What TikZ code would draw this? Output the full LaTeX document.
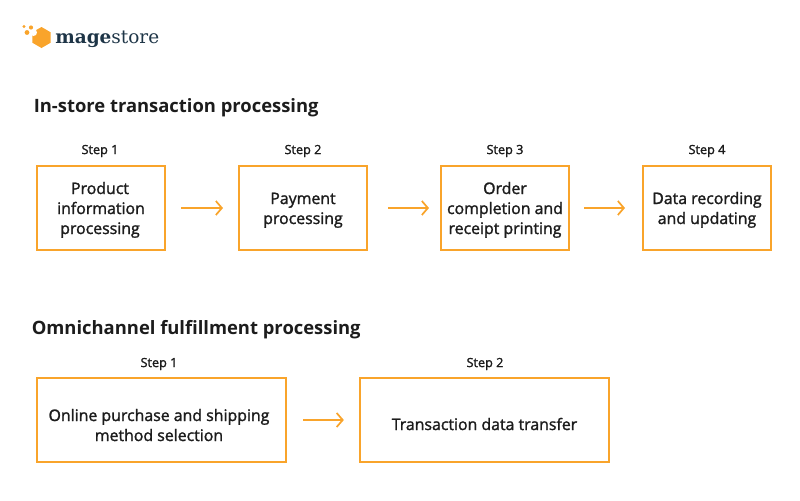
\documentclass[tikz,border=0pt]{standalone}
\usepackage{fontspec}
\setmainfont{Open Sans}
\newfontfamily\midfont[FakeBold=1.6]{Open Sans}
\newfontfamily\logofont{DejaVu Serif}
\usetikzlibrary{arrows.meta}
\usetikzlibrary{shapes.geometric}
\definecolor{mageorange}{HTML}{F9A42B}
\definecolor{magenavy}{HTML}{1E3547}
\definecolor{boxtext}{HTML}{1C1C1C}

\begin{document}
\begin{tikzpicture}[x = 0.75pt, y = -0.75pt]
\tikzset{
   node distance = 151.5pt, >={Straight Barb[length = 4.5pt, width = 10.5pt]},
   stepbox/.style = {rectangle, draw = mageorange, line width = 1.7pt, minimum width = 96pt, minimum height = 63pt, outer sep = 0pt, inner sep = 0pt, align = center, text = boxtext, text depth = 0pt, font = \midfont\fontsize{11.9}{15}\selectfont},
   wide_stepbox/.style = {stepbox, minimum width = 187pt},
   steplabel/.style = {text = boxtext, font = \midfont\fontsize{9.5}{10}\selectfont},
   heading/.style = {anchor = west, inner sep = 0pt, text = boxtext, font = \bfseries\fontsize{13.8}{17}\selectfont},
   flow/.style = {draw = mageorange, line width = 1.3pt}
}
  \useasboundingbox (0,0) rectangle (800,500);

  % logo
  \node[regular polygon, regular polygon sides = 6, shape border rotate = 30, fill = mageorange, minimum size = 15.75pt, inner sep = 0pt] (hexagon) at (41.5,37.5) {};
  \fill[white] (33.5,32.5) circle (3.5);
  \fill[mageorange] (24,26.5) circle (1.6);
  \fill[mageorange] (31,27.5) circle (2.1);
  \fill[mageorange] (27,32.5) circle (2.4);
  \node[anchor = west, inner sep = 0pt, text = magenavy, font = \logofont\fontsize{13.85}{17}\selectfont] (logotext) at (55,39) {\textbf{mage}store};

  % first row
  \node[heading] (heading_store) at (33.5,108) {In-store transaction processing};

  \node[stepbox, text height = 39pt] (store_one) at (101,208) {Product\hspace*{1.5pt}\\information\hspace*{1.5pt}\\processing\hspace*{1.5pt}};
  \node[stepbox, text height = 24pt] (store_two) [right of = store_one] {Payment\\processing}
        edge [<-, flow, shorten <= 12pt, shorten >= 12pt] (store_one);
  \node[stepbox, text height = 39pt] (store_three) [right of = store_two] {Order\\completion and\\receipt printing}
        edge [<-, flow, shorten <= 9pt, shorten >= 16pt] (store_two);
  \node[stepbox, text height = 24pt] (store_four) [right of = store_three] {Data recording\\and updating}
        edge [<-, flow, shorten <= 13.5pt, shorten >= 11pt] (store_three);

  \node[steplabel] (label_store_one) at (100,151) {Step 1};
  \node[steplabel] (label_store_two) at (303,151) {Step 2};
  \node[steplabel] (label_store_three) at (505,151) {Step 3};
  \node[steplabel] (label_store_four) at (707,151) {Step 4};

  % second row
  \node[heading] (heading_omni) at (31.5,330) {Omnichannel fulfillment processing};

  \node[wide_stepbox, text height = 31.5pt] (omni_one) at (161.5,420) {Online purchase and shipping\hspace*{3.75pt}\\method selection\hspace*{3.75pt}};
  \node[wide_stepbox, text height = 15pt] (omni_two) at (484.5,420) {Transaction data transfer}
        edge [<-, flow, shorten <= 12pt, shorten >= 12.5pt] (omni_one);

  \node[steplabel] (label_omni_one) at (159,364) {Step 1};
  \node[steplabel] (label_omni_two) at (485,364) {Step 2};

\end{tikzpicture}
\end{document}
